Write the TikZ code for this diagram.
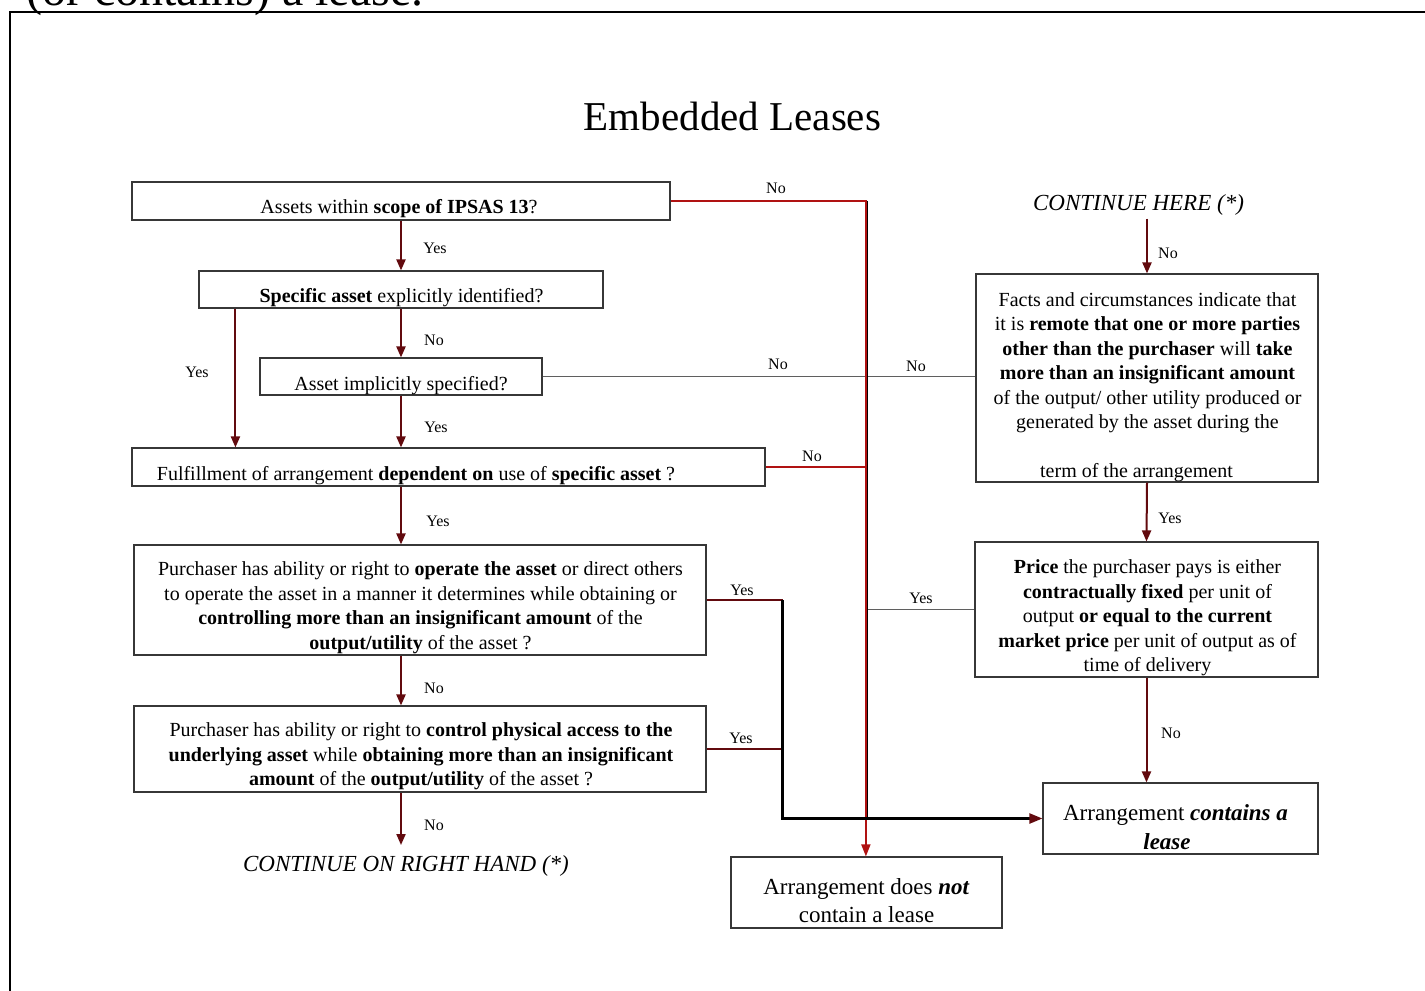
\documentclass[tikz,border=0pt]{standalone}
\usepackage{fontspec}
\setmainfont{Liberation Serif}
\usetikzlibrary{arrows.meta}
\definecolor{arrowc}{RGB}{98,10,14}
\definecolor{redc}{RGB}{176,18,18}
\definecolor{boxc}{RGB}{55,55,55}
\definecolor{grayc}{RGB}{95,95,95}
\begin{document}
\begin{tikzpicture}[x=1pt,y=-1pt,
  box/.style={draw=boxc, line width=1.1pt, inner sep=0pt},
  txt/.style={align=center, inner sep=0pt, font=\fontsize{20}{24.5}\selectfont},
  bigtxt/.style={align=center, inner sep=0pt, font=\fontsize{23}{29}\selectfont},
  lbl/.style={inner sep=0pt, font=\fontsize{16}{18}\selectfont},
  flow/.style={draw=arrowc, line width=2pt, -{Triangle[length=11pt,width=9pt,fill=arrowc]}},
  noline/.style={draw=redc, line width=2.2pt},
  thinline/.style={draw=grayc, line width=1.2pt},
  yesline/.style={draw=arrowc, line width=2pt},
  leasearrow/.style={draw=black, line width=2.2pt, -{Triangle[length=13pt,width=10pt,fill=arrowc,color=arrowc]}}
]
\useasboundingbox (0,0) rectangle (1425,991);

% page context: heading line above the frame and the frame itself
\node[anchor=base west, inner sep=0pt, font=\fontsize{48}{50}\selectfont] (hdr) at (26,5) {(or contains) a lease.};
\draw[line width=2pt] (1440,12) -- (10,12) -- (10,1000);

% title
\node[inner sep=0pt, font=\fontsize{41}{44}\selectfont] (title) at (732.5,116) {Embedded Leases};

% left column boxes
\node[box, minimum width=538pt, minimum height=38pt] (b1) at (401,201) {};
\node[txt] (t1) at (399,209) {Assets within \textbf{scope of IPSAS 13}?};

\node[box, minimum width=404pt, minimum height=37pt] (b2) at (401,289.5) {};
\node[txt] (t2) at (401.5,297.5) {\textbf{Specific asset} explicitly identified?};

\node[box, minimum width=282pt, minimum height=37pt] (b3) at (401,376.5) {};
\node[txt] (t3) at (401,386) {Asset implicitly specified?};

\node[box, minimum width=633pt, minimum height=38pt] (b4) at (448.5,467) {};
\node[txt] (t4) at (416,475.5) {Fulfillment of arrangement \textbf{dependent on} use of \textbf{specific asset} ?};

\node[box, minimum width=572pt, minimum height=110pt] (b5) at (420,600) {};
\node[txt] (t5) at (420.5,607.5) {Purchaser has ability or right to \textbf{operate the asset} or direct others\\
to operate the asset in a manner it determines while obtaining or\\
\textbf{controlling more than an insignificant amount} of the\\
\textbf{output/utility} of the asset ?};

\node[box, minimum width=572pt, minimum height=86pt] (b6) at (420,749) {};
\node[txt] (t6) at (421,756.5) {Purchaser has ability or right to \textbf{control physical access to the}\\
\textbf{underlying asset} while \textbf{obtaining more than an insignificant}\\
\textbf{amount} of the \textbf{output/utility} of the asset ?};

\node[bigtxt, font=\fontsize{23}{29}\itshape] (crh) at (406,866) {CONTINUE ON RIGHT HAND (*)};
\coordinate (crhtop) at (401,845);

% right column boxes
\node[bigtxt, font=\fontsize{23}{29}\itshape] (ch) at (1138.5,205) {CONTINUE HERE (*)};

\node[box, minimum width=342pt, minimum height=208pt] (facts) at (1147,378) {};
\node[txt] (tf) at (1147.5,387) {Facts and circumstances indicate that\\
it is \textbf{remote that one or more parties}\\
\textbf{other than the purchaser} will \textbf{take}\\
\textbf{more than an insignificant amount}\\
of the output/ other utility produced or\\
generated by the asset during the\\[24.5pt]
term of the arrangement\hspace*{22pt}};

\node[box, minimum width=343pt, minimum height=135pt] (price) at (1146.5,609.5) {};
\node[txt] (tp) at (1147.5,618) {\textbf{Price} the purchaser pays is either\\
\textbf{contractually fixed} per unit of\\
output \textbf{or equal to the current}\\
\textbf{market price} per unit of output as of\\
time of delivery};

\node[box, minimum width=275pt, minimum height=71pt] (ct) at (1180.5,818.5) {};
\node[bigtxt] (tct) at (1167,827) {\hspace*{17pt}Arrangement \textbf{\textit{contains a}}\\ \textbf{\textit{lease}}};

\node[box, minimum width=271pt, minimum height=71pt] (dn) at (866.5,892.5) {};
\node[bigtxt, font=\fontsize{23}{28}\selectfont] (tdn) at (866.5,901) {Arrangement does \textbf{\textit{not}}\\ contain a lease};

% junction points
\coordinate (jy) at ([xshift=76pt]b5.east);

% connectors of the left column
\draw[flow] (b1.south) -- (b2.north);
\draw[flow] (b2.south) -- (b3.north);
\draw[flow] ([xshift=37pt]b2.south west) -- ([xshift=37pt]b2.south west |- b4.north);
\draw[flow] (b3.south) -- (b3.south |- b4.north);
\draw[flow] (b4.south -| b3.south) -- (b5.north -| b3.south);
\draw[flow] (b5.south -| b3.south) -- (b6.north -| b3.south);
\draw[flow] (b6.south -| b3.south) -- (crhtop);

% "No" routes to the negative outcome
\draw[thinline] (b3.east) -- (facts.west |- b3.east);
\draw[thinline] (price.west) -- (price.west -| dn.north);
\draw[line width=1.6pt, black] ([xshift=0.8pt]b1.east -| dn.north) -- ([xshift=0.8pt]dn.north |- ct.west);
\draw[noline] (b1.east) -- (b1.east -| dn.north);
\draw[noline] (b4.east) -- (b4.east -| dn.north);
\draw[draw=redc, line width=1.6pt, -{Triangle[length=12pt,width=9pt,fill=redc]}] ([xshift=-0.6pt]b1.east -| dn.north) -- ([xshift=-0.6pt]dn.north);

% "Yes" routes to the positive outcome
\draw[yesline] (b5.east) -- (jy);
\draw[yesline] (b6.east) -- (b6.east -| jy);
\draw[leasearrow] (jy) |- (ct.west);

% connectors of the right column
\draw[flow] ([yshift=-3pt]facts.north |- ch.south) -- (facts.north);
\draw[flow] (facts.south) -- (price.north);
\draw[flow] (price.south) -- (price.south |- ct.north);

% branch labels
\node[lbl] (l1) at (435,248) {Yes};
\node[lbl] (l2) at (776,188) {No};
\node[lbl] (l3) at (434,340) {No};
\node[lbl] (l4) at (197,372) {Yes};
\node[lbl] (l5) at (778,364) {No};
\node[lbl] (l6) at (916,366) {No};
\node[lbl] (l7) at (436,427) {Yes};
\node[lbl] (l8) at (812,456) {No};
\node[lbl] (l9) at (438,521) {Yes};
\node[lbl] (l10) at (742,590) {Yes};
\node[lbl] (l11) at (921,598) {Yes};
\node[lbl] (l12) at (434,688) {No};
\node[lbl] (l13) at (741,738) {Yes};
\node[lbl] (l14) at (434,825) {No};
\node[lbl] (l15) at (1168,253) {No};
\node[lbl] (l16) at (1170,518) {Yes};
\node[lbl] (l17) at (1171,733) {No};
\end{tikzpicture}
\end{document}
